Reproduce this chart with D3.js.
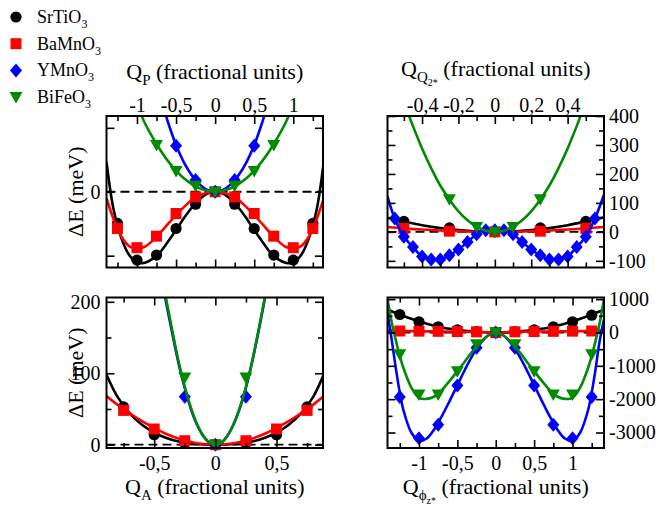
<!DOCTYPE html>
<html>
<head>
<meta charset="utf-8">
<script src="https://cdn.jsdelivr.net/npm/d3@7"></script>
<style>
  @font-face { font-family: "ChartSerif"; src: local("Liberation Serif"), local("LiberationSerif"), local("LiberationSerif-Regular"); }
  body { margin: 0; background: #fff; }
  svg, svg text, svg tspan { font-family: "Liberation Serif", ChartSerif, Tinos, "Times New Roman" !important; }
</style>
</head>
<body>
<svg id="chart" width="658" height="506"></svg>
<script>

// ---- legend ----
var materialNames = ["SrTiO", "BaMnO", "YMnO", "BiFeO"];
var materialColors = ["#000000", "#ff0000", "#0000ff", "#008b00"];
var materialSymbols = ["circle", "square", "diamond", "triangle"];

// ---- Q_P panel (top left) ----
var qpX = [-1.25, -1, -0.75, -0.5, -0.25, 0, 0.25, 0.5, 0.75, 1, 1.25];
var qpSr = [-9.9, -21.4, -19.8, -11.5, -3.9, 0, -3.9, -11.5, -19.8, -21.4, -9.9];
var qpBa = [-11.5, -17.5, -13.9, -6.8, -1.6, 0, -1.6, -6.8, -13.9, -17.5, -11.5];
var qpYX = [-0.5, -0.25, 0, 0.25, 0.5];
var qpY = [14.4, 3.7, 0, 3.7, 14.4];
var qpBX = [-0.75, -0.5, -0.25, 0, 0.25, 0.5, 0.75];
var qpB = [14.6, 6.5, 1.9, 0, 1.9, 6.5, 14.6];
var qpFitX = [-1.39, -1.3, -1.2, -1.1, -1, -0.9, -0.8, -0.7, -0.6, -0.5, -0.4, -0.3, -0.2, -0.1, 0,
              0.1, 0.2, 0.3, 0.4, 0.5, 0.6, 0.7, 0.8, 0.9, 1, 1.1, 1.2, 1.3, 1.39];
var qpSrFit = [9.4, -5.5, -14.5, -19.8, -22.2, -22.2, -21, -18.8, -15.5, -12, -8.3, -5, -2.4, -0.6, 0,
               -0.6, -2.4, -5, -8.3, -12, -15.5, -18.8, -21, -22.2, -22.2, -19.8, -14.5, -5.5, 9.4];
var qpBaFit = [-2.1, -8.5, -14, -17, -17.8, -17.2, -15.3, -12.8, -10, -7.3, -4.8, -2.6, -1.1, -0.3, 0,
               -0.3, -1.1, -2.6, -4.8, -7.3, -10, -12.8, -15.3, -17.2, -17.8, -17, -14, -8.5, -2.1];
var qpYFitX = [-0.65, -0.6, -0.5, -0.4, -0.3, -0.2, -0.1, 0, 0.1, 0.2, 0.3, 0.4, 0.5, 0.6, 0.65];
var qpYFit = [25.5, 21.5, 14.6, 9.2, 5.2, 2.3, 0.6, 0, 0.6, 2.3, 5.2, 9.2, 14.6, 21.5, 25.5];
var qpBFitX = [-0.97, -0.9, -0.8, -0.7, -0.6, -0.5, -0.4, -0.3, -0.2, -0.1, 0,
               0.1, 0.2, 0.3, 0.4, 0.5, 0.6, 0.7, 0.8, 0.9, 0.97];
var qpBFit = [25.5, 21.5, 17, 13, 9.5, 6.6, 4.2, 2.4, 1.1, 0.3, 0,
              0.3, 1.1, 2.4, 4.2, 6.6, 9.5, 13, 17, 21.5, 25.5];

// ---- Q_Q2* panel (top right) ----
var qqX = [-0.5, -0.25, 0, 0.25, 0.5];
var qqSr = [36, 13.7, 0, 13.7, 36];
var qqBa = [12, 2.5, 0, 2.5, 12];
var qqYX = [-0.55, -0.5, -0.45, -0.4, -0.35, -0.3, -0.25, -0.2, -0.15, -0.1, -0.05, 0,
            0.05, 0.1, 0.15, 0.2, 0.25, 0.3, 0.35, 0.4, 0.45, 0.5, 0.55];
var qqY = [46, -17, -52, -85, -95, -95, -81, -61, -35, -8, 6, 6,
           6, -8, -35, -61, -81, -95, -95, -85, -52, -17, 46];
var qqBX = [-0.25, -0.1, 0, 0.1, 0.25];
var qqB = [113, 17, 0, 17, 113];
var qqFitX = [-0.59, -0.5, -0.4, -0.3, -0.2, -0.1, 0, 0.1, 0.2, 0.3, 0.4, 0.5, 0.6];
var qqSrFit = [49, 36, 23, 13, 6, 1.5, 0, 1.5, 6, 13, 23, 36, 50];
var qqBaFit = [17, 12, 8, 4.5, 2, 0.5, 0, 0.5, 2, 4.5, 8, 12, 17];
var qqYFitX = [-0.59, -0.55, -0.5, -0.45, -0.4, -0.35, -0.3, -0.25, -0.2, -0.15, -0.1, -0.05, 0,
               0.05, 0.1, 0.15, 0.2, 0.25, 0.3, 0.35, 0.4, 0.45, 0.5, 0.55, 0.6];
var qqYFit = [122, 46, -17, -52, -85, -95, -95, -81, -61, -35, -8, 6, 6,
              6, -8, -35, -61, -81, -95, -95, -85, -52, -17, 46, 128];
var qqBFitX = [-0.48, -0.45, -0.4, -0.35, -0.3, -0.25, -0.2, -0.15, -0.1, -0.05, 0,
               0.05, 0.1, 0.15, 0.2, 0.25, 0.3, 0.35, 0.4, 0.45, 0.48];
var qqBFit = [415, 365, 288, 220, 160, 112, 71, 40, 18, 4, 0,
              4, 18, 40, 71, 112, 160, 220, 288, 365, 415];

// ---- Q_A panel (bottom left) ----
var qaX = [-0.75, -0.5, -0.25, 0, 0.25, 0.5, 0.75];
var qaSr = [53, 14, 2.3, 0, 2.3, 14, 53];
var qaBa = [48, 22, 5.6, 0, 5.6, 22, 48];
var qaYX = [-0.25, 0, 0.25];
var qaY = [67, 0, 67];
var qaBX = [-0.25, 0, 0.25];
var qaB = [94, 0, 94];
var qaFitX = [-0.89, -0.8, -0.7, -0.6, -0.5, -0.4, -0.3, -0.2, -0.1, 0,
              0.1, 0.2, 0.3, 0.4, 0.5, 0.6, 0.7, 0.8, 0.88];
var qaSrFit = [98, 67, 44, 28, 17, 9.5, 4.5, 1.8, 0.4, 0, 0.4, 1.8, 4.5, 9.5, 17, 28, 44, 67, 96];
var qaBaFit = [68, 56, 44, 33, 23.5, 15, 8.5, 3.8, 1, 0, 1, 3.8, 8.5, 15, 23.5, 33, 44, 56, 67];
var qaNarrowX = [-0.42, -0.35, -0.3, -0.25, -0.2, -0.15, -0.1, -0.05, 0,
                 0.05, 0.1, 0.15, 0.2, 0.25, 0.3, 0.35, 0.42];
var qaYFit = [214, 154, 113, 79, 50, 28, 12.5, 3.1, 0, 3.2, 13, 29, 51, 80, 115, 156, 218];
var qaBFit = [220, 158, 116, 81, 52, 29, 13, 3.2, 0, 3.2, 13, 29, 52, 81, 116, 158, 220];

// ---- Q_phi_z* panel (bottom right) ----
var qfX = [-1.25, -1, -0.75, -0.5, -0.25, 0, 0.25, 0.5, 0.75, 1, 1.25];
var qfSr = [540, 320, 170, 80, 30, 0, 30, 80, 170, 320, 520];
var qfBa = [45, 40, 35, 30, 20, 0, 20, 30, 35, 40, 45];
var qfY = [-1935, -3170, -2770, -1590, -455, 0, -455, -1590, -2770, -3170, -1935];
var qfB = [-655, -1860, -1860, -1160, -350, 0, -350, -1160, -1860, -1860, -655];
var qfFitX = [-1.41, -1.35, -1.3, -1.25, -1.2, -1.1, -1, -0.9, -0.8, -0.7, -0.6, -0.5, -0.4, -0.3, -0.2, -0.1, 0,
              0.1, 0.2, 0.3, 0.4, 0.5, 0.6, 0.7, 0.8, 0.9, 1, 1.1, 1.2, 1.25, 1.3, 1.35, 1.41];
var qfSrFit = [690, 630, 585, 540, 495, 410, 330, 265, 205, 150, 110, 80, 52, 30, 13, 3, 0,
               3, 13, 30, 52, 80, 110, 150, 205, 265, 330, 410, 495, 540, 585, 630, 690];
var qfBaFit = [60, 55, 52, 48, 45, 40, 38, 35, 33, 31, 29, 27, 24, 19, 12, 4, 0,
               4, 12, 19, 24, 27, 29, 31, 33, 35, 38, 40, 45, 48, 52, 55, 60];
var qfYFit = [600, -300, -1100, -1800, -2350, -3000, -3250, -3180, -2900, -2500, -2050, -1580, -1110, -680, -330, -90, 0,
              -90, -330, -680, -1110, -1580, -2050, -2500, -2900, -3180, -3250, -3000, -2350, -1800, -1100, -300, 400];
var qfBFit = [1000, 250, -250, -700, -1080, -1650, -1960, -1990, -1920, -1720, -1450, -1160, -860, -560, -300, -90, 0,
              -90, -300, -560, -860, -1160, -1450, -1720, -1920, -1990, -1960, -1650, -1080, -700, -250, 250, 1000];


var FONT = "'Liberation Serif'";
var svg = d3.select("#chart");

function symbolPath(kind) {
  if (kind == "circle") return d3.symbol(d3.symbolCircle, Math.PI * 5.6 * 5.6)();
  if (kind == "square") return d3.symbol(d3.symbolSquare, 121)();
  if (kind == "diamond") return "M0,-7L6,0L0,7L-6,0Z";
  return "M-6.5,-5L6.5,-5L0,6.5Z";
}

function fmt(v) {
  return String(Math.round(v * 100) / 100).replace(".", ",");
}

// title pieces are [text, fontSize, dy] so subscripts can be built
function addTitle(g, x, y, pieces, rotate) {
  var t = g.append("text")
    .attr("text-anchor", "middle")
    .attr("transform", "translate(" + x + "," + y + ")" + (rotate ? " rotate(-90)" : ""));
  pieces.forEach(function(p) {
    t.append("tspan").attr("font-size", p[1]).attr("dy", p[2]).text(p[0]);
  });
}

function drawPanel(p, idx) {
  var x = d3.scaleLinear().domain(p.xDomain).range([p.left, p.right]);
  var y = d3.scaleLinear().domain(p.yDomain).range([p.bottom, p.top]);
  var g = svg.append("g");

  g.append("clipPath").attr("id", "clip" + idx)
    .append("rect").attr("x", p.left).attr("y", p.top)
    .attr("width", p.right - p.left).attr("height", p.bottom - p.top);

  // zero line
  g.append("line")
    .attr("x1", p.left).attr("x2", p.right)
    .attr("y1", y(0)).attr("y2", y(0))
    .attr("stroke", "#000").attr("stroke-width", 1.8)
    .attr("stroke-dasharray", "9,5");

  p.series.forEach(function(s, k) {
    var line = d3.line()
      .x(function(i) { return x(s.fx[i]); })
      .y(function(i) { return y(s.fy[i]); })
      .curve(d3.curveCatmullRom.alpha(0.5));
    g.append("path")
      .attr("clip-path", "url(#clip" + idx + ")")
      .attr("d", line(d3.range(s.fx.length)))
      .attr("fill", "none")
      .attr("stroke", materialColors[k])
      .attr("stroke-width", 2.6);
    g.selectAll(null).data(d3.range(s.mx.length)).enter()
      .append("path")
      .attr("d", symbolPath(materialSymbols[k]))
      .attr("transform", function(i) { return "translate(" + x(s.mx[i]) + "," + y(s.my[i]) + ")"; })
      .attr("fill", materialColors[k]);
  });

  // axes, ticks inward
  var noLab = function() { return ""; };
  var xLab = function(v) { return p.xLabels.indexOf(v) >= 0 ? fmt(v) : ""; };
  var yLab = function(v) { return p.yLabels.indexOf(v) >= 0 ? fmt(v) : ""; };

  var axes = [
    [d3.axisTop(x), p.top, 0, "x", p.xLabelSide == "top"],
    [d3.axisBottom(x), p.bottom, 0, "x", p.xLabelSide == "bottom"],
    [d3.axisLeft(y), 0, p.left, "y", p.yLabelSide == "left"],
    [d3.axisRight(y), 0, p.right, "y", p.yLabelSide == "right"]
  ];
  axes.forEach(function(a) {
    var isX = a[3] == "x";
    var major = a[0].tickValues(isX ? p.xMajor : p.yMajor).tickSize(-8)
      .tickPadding(isX ? (a[1] == p.top ? 4 : 8) : (a[2] == p.left ? 6 : 5))
      .tickFormat(a[4] ? (isX ? xLab : yLab) : noLab);
    var ga = g.append("g").attr("transform", "translate(" + a[2] + "," + a[1] + ")").call(major);
    ga.attr("font-family", null);
    ga.select(".domain").remove();
    ga.selectAll("line").attr("stroke-width", 1.6);
    ga.selectAll("text").attr("fill", "#000").attr("font-size", 20);
    var minorVals = isX ? p.xMinor : p.yMinor;
    if (minorVals.length) {
      var gm = g.append("g").attr("transform", "translate(" + a[2] + "," + a[1] + ")")
        .call(a[0].tickValues(minorVals).tickSize(-5).tickFormat(noLab));
      gm.select(".domain").remove();
      gm.selectAll("line").attr("stroke-width", 1.6);
    }
  });

  g.append("rect")
    .attr("x", p.left).attr("y", p.top)
    .attr("width", p.right - p.left).attr("height", p.bottom - p.top)
    .attr("fill", "none").attr("stroke", "#000").attr("stroke-width", 2);

  var cx = (p.left + p.right) / 2;
  addTitle(g, cx, p.titleY, p.title, false);
  if (p.yTitle) {
    addTitle(g, 83, (p.top + p.bottom) / 2, [["\u0394E (meV)", 22, 0]], true);
  }
}

var panels = [
  {
    left: 106.5, right: 323, top: 116, bottom: 267.5,
    xDomain: [-1.39, 1.38], yDomain: [-23.7, 23.7],
    xMajor: [-1, -0.5, 0, 0.5, 1], xLabels: [-1, -0.5, 0, 0.5, 1],
    xMinor: [-1.25, -0.75, -0.25, 0.25, 0.75, 1.25], xLabelSide: "top",
    yMajor: [-20, 0, 20], yLabels: [0], yMinor: [], yLabelSide: "left",
    title: [["Q", 22, 0], ["P", 15, 6], [" (fractional units)", 22, -6]], titleY: 79,
    yTitle: true,
    series: [
      { mx: qpX, my: qpSr, fx: qpFitX, fy: qpSrFit },
      { mx: qpX, my: qpBa, fx: qpFitX, fy: qpBaFit },
      { mx: qpYX, my: qpY, fx: qpYFitX, fy: qpYFit },
      { mx: qpBX, my: qpB, fx: qpBFitX, fy: qpBFit }
    ]
  },
  {
    left: 387.5, right: 604, top: 116, bottom: 267.5,
    xDomain: [-0.59, 0.6], yDomain: [-123, 400],
    xMajor: [-0.4, -0.2, 0, 0.2, 0.4], xLabels: [-0.4, -0.2, 0, 0.2, 0.4],
    xMinor: [-0.5, -0.3, -0.1, 0.1, 0.3, 0.5], xLabelSide: "top",
    yMajor: [-100, 0, 100, 200, 300, 400], yLabels: [-100, 0, 100, 200, 300, 400],
    yMinor: [-50, 50, 150, 250, 350], yLabelSide: "right",
    title: [["Q", 22, 0], ["Q", 15, 6], ["2*", 10, 4], [" (fractional units)", 22, -10]], titleY: 76,
    yTitle: false,
    series: [
      { mx: qqX, my: qqSr, fx: qqFitX, fy: qqSrFit },
      { mx: qqX, my: qqBa, fx: qqFitX, fy: qqBaFit },
      { mx: qqYX, my: qqY, fx: qqYFitX, fy: qqYFit },
      { mx: qqBX, my: qqB, fx: qqBFitX, fy: qqBFit }
    ]
  },
  {
    left: 106.5, right: 323, top: 297.5, bottom: 448,
    xDomain: [-0.89, 0.88], yDomain: [-4.6, 206],
    xMajor: [-0.5, 0, 0.5], xLabels: [-0.5, 0, 0.5],
    xMinor: [-0.75, -0.25, 0.25, 0.75], xLabelSide: "bottom",
    yMajor: [0, 100, 200], yLabels: [0, 100, 200], yMinor: [50, 150], yLabelSide: "left",
    title: [["Q", 22, 0], ["A", 15, 6], [" (fractional units)", 22, -6]], titleY: 494,
    yTitle: true,
    series: [
      { mx: qaX, my: qaSr, fx: qaFitX, fy: qaSrFit },
      { mx: qaX, my: qaBa, fx: qaFitX, fy: qaBaFit },
      { mx: qaYX, my: qaY, fx: qaNarrowX, fy: qaYFit },
      { mx: qaBX, my: qaB, fx: qaNarrowX, fy: qaBFit }
    ]
  },
  {
    left: 387.5, right: 604, top: 297.5, bottom: 448,
    xDomain: [-1.41, 1.41], yDomain: [-3465, 1050],
    xMajor: [-1, -0.5, 0, 0.5, 1], xLabels: [-1, -0.5, 0, 0.5, 1],
    xMinor: [-1.25, -0.75, -0.25, 0.25, 0.75, 1.25], xLabelSide: "bottom",
    yMajor: [-3000, -2000, -1000, 0, 1000], yLabels: [-3000, -2000, -1000, 0, 1000],
    yMinor: [-2500, -1500, -500, 500], yLabelSide: "right",
    title: [["Q", 22, 0], ["\u03D5", 15, 6], ["z*", 10, 4], [" (fractional units)", 22, -10]], titleY: 494,
    yTitle: false,
    series: [
      { mx: qfX, my: qfSr, fx: qfFitX, fy: qfSrFit },
      { mx: qfX, my: qfBa, fx: qfFitX, fy: qfBaFit },
      { mx: qfX, my: qfY, fx: qfFitX, fy: qfYFit },
      { mx: qfX, my: qfB, fx: qfFitX, fy: qfBFit }
    ]
  }
];

panels.forEach(drawPanel);

// legend in the top left corner
var legend = svg.append("g");
materialNames.forEach(function(name, k) {
  var row = legend.append("g").attr("transform", "translate(16," + (17 + k * 26.7) + ")");
  row.append("path").attr("d", symbolPath(materialSymbols[k])).attr("fill", materialColors[k]);
  var t = row.append("text").attr("x", 21).attr("y", 6).attr("font-size", 18);
  t.append("tspan").text(name);
  t.append("tspan").attr("font-size", 12).attr("dy", 5).text("3");
});

</script>
</body>
</html>
